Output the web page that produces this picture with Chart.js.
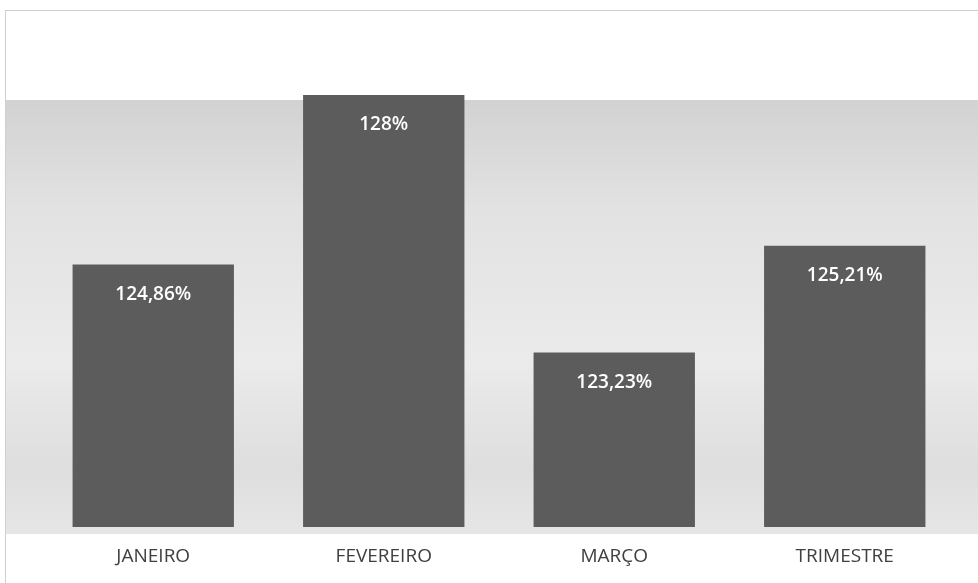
<!DOCTYPE html>
<html>
<head>
<meta charset="utf-8">
<script src="https://cdn.jsdelivr.net/npm/chart.js@4/dist/chart.umd.min.js"></script>
<style>
  html, body { margin: 0; padding: 0; background: #fff; }
  #wrap { position: relative; width: 978px; height: 583px; }
  #frame { position: absolute; left: 5px; top: 10px; width: 980px; height: 580px; border: 1px solid #cfcfcf; box-sizing: border-box; }
  canvas { position: absolute; left: 0; top: 0; }
</style>
</head>
<body>
<div id="wrap">
  <div id="frame"></div>
  <canvas id="chart" width="978" height="583"></canvas>
</div>
<script>
    'use strict';

    var categories = ['JANEIRO', 'FEVEREIRO', 'MARÇO', 'TRIMESTRE'];
    var values = [124.86, 128, 123.23, 125.21];
    var valueLabels = ['124,86%', '128%', '123,23%', '125,21%'];

    // grey backdrop band behind the bars
    var backdrop = {
        id: 'backdrop',
        beforeDraw: function (chart) {
            var ctx = chart.ctx;
            var g = ctx.createLinearGradient(0, 100, 0, 534);
            g.addColorStop(0, '#d2d2d2');
            g.addColorStop(0.25, '#e2e2e2');
            g.addColorStop(0.6, '#ebebeb');
            g.addColorStop(0.85, '#dedede');
            g.addColorStop(1, '#e6e6e6');
            ctx.save();
            ctx.fillStyle = g;
            ctx.fillRect(6, 100, chart.width - 6, 434);
            ctx.restore();
        }
    };

    // value labels inside bar tops
    var barLabels = {
        id: 'barLabels',
        afterDatasetsDraw: function (chart) {
            var ctx = chart.ctx;
            var meta = chart.getDatasetMeta(0);
            ctx.save();
            ctx.fillStyle = '#ffffff';
            ctx.font = '600 19px "Open Sans"';
            ctx.textAlign = 'center';
            ctx.textBaseline = 'middle';
            meta.data.forEach(function (bar, i) {
                ctx.fillText(valueLabels[i], bar.x, bar.y + 30);
            });
            ctx.restore();
        }
    };

    new Chart(document.getElementById('chart'), {
        'type'    : 'bar',
        'plugins' : [backdrop, barLabels],
        'data'    : {
            'labels'   : categories,
            'datasets' : [{
                'data'               : values,
                'backgroundColor'    : '#5c5c5c',
                'categoryPercentage' : 1,
                'barPercentage'      : 0.7
            }]
        },
        'options' : {
            'responsive' : false,
            'animation'  : false,
            'layout'     : { 'padding': { 'left': 38, 'right': 18, 'top': 14, 'bottom': 0 } },
            'plugins'    : { 'legend': { 'display': false }, 'tooltip': { 'enabled': false } },
            'scales'     : {
                'x' : {
                    'grid'   : { 'display': false, 'drawTicks': false },
                    'border' : { 'display': false },
                    'ticks'  : { 'color': '#404040', 'padding': 18, 'font': { 'family': 'Open Sans', 'size': 19 } },
                    'afterFit' : function (s) { s.height = 56; }
                },
                'y' : { 'display': false, 'min': 120, 'max': 129.5 }
            }
        }
    });
</script>
</body>
</html>
